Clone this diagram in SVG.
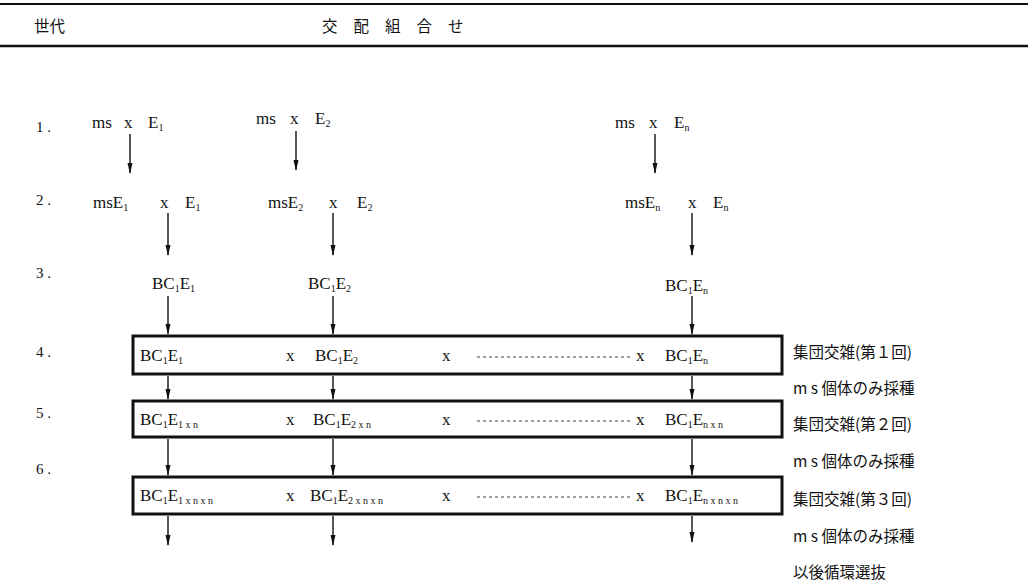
<svg xmlns="http://www.w3.org/2000/svg" width="1028" height="587" viewBox="0 0 1028 587">
<style>
.t{font-family:"Liberation Serif","Times New Roman",serif;font-size:17px;fill:#111}
.s{font-size:10px}
.j{font-family:"Noto Sans CJK JP","Noto Sans CJK SC",sans-serif;font-size:15.5px;fill:#111}
.n{font-family:"Liberation Serif","Times New Roman",serif;font-size:15px;fill:#111}
.box{fill:#fff;stroke:#111;stroke-width:3}
.ar{stroke:#111;stroke-width:1.4;fill:none;marker-end:url(#ah)}
.dash{stroke:#111;stroke-width:0.8;stroke-dasharray:3 3}
.rule{stroke:#111}
</style>
<defs>
<marker id="ah" markerWidth="11" markerHeight="6" refX="10" refY="3" orient="auto" markerUnits="userSpaceOnUse" viewBox="0 0 11 6">
<path d="M0,0.5 L11,3 L0,5.5 Z" fill="#111"/>
</marker>
</defs>
<rect width="1028" height="587" fill="#fff"/>
<g id="header">
<line class="rule" x1="0" y1="4" x2="1028" y2="4" stroke-width="2"/>
<line class="rule" x1="0" y1="46" x2="1028" y2="46" stroke-width="2.5"/>
<text class="j" x="34" y="32">世代</text>
<text class="j" x="322" y="32" letter-spacing="16">交配組合せ</text>
</g>
<g id="generation-labels">
<text class="n" x="36" y="132">1 .</text>
<text class="n" x="36" y="205">2 .</text>
<text class="n" x="36" y="278">3 .</text>
<text class="n" x="36" y="357">4 .</text>
<text class="n" x="36" y="418">5 .</text>
<text class="n" x="36" y="474">6 .</text>
</g>
<g id="row1">
<text class="t" x="92" y="128">ms<tspan x="124">x</tspan><tspan x="148">E</tspan><tspan class="s" dy="3">1</tspan></text>
<text class="t" x="256" y="124">ms<tspan x="290">x</tspan><tspan x="315">E</tspan><tspan class="s" dy="3">2</tspan></text>
<text class="t" x="615" y="128">ms<tspan x="649">x</tspan><tspan x="674">E</tspan><tspan class="s" dy="3">n</tspan></text>
</g>
<g id="row2">
<text class="t" x="93" y="208">msE<tspan class="s" dy="3">1</tspan><tspan x="160" dy="-3">x</tspan><tspan x="185">E</tspan><tspan class="s" dy="3">1</tspan></text>
<text class="t" x="268" y="208">msE<tspan class="s" dy="3">2</tspan><tspan x="329" dy="-3">x</tspan><tspan x="357">E</tspan><tspan class="s" dy="3">2</tspan></text>
<text class="t" x="625" y="208">msE<tspan class="s" dy="3">n</tspan><tspan x="688" dy="-3">x</tspan><tspan x="713">E</tspan><tspan class="s" dy="3">n</tspan></text>
</g>
<g id="row3">
<text class="t" x="152" y="289">BC<tspan class="s" dy="3">1</tspan><tspan dy="-3">E</tspan><tspan class="s" dy="3">1</tspan></text>
<text class="t" x="308" y="289">BC<tspan class="s" dy="3">1</tspan><tspan dy="-3">E</tspan><tspan class="s" dy="3">2</tspan></text>
<text class="t" x="665" y="291">BC<tspan class="s" dy="3">1</tspan><tspan dy="-3">E</tspan><tspan class="s" dy="3">n</tspan></text>
</g>
<g id="box4">
<rect class="box" x="133" y="336" width="649" height="38"/>
<text class="t" x="140" y="361">BC<tspan class="s" dy="3">1</tspan><tspan dy="-3">E</tspan><tspan class="s" dy="3">1</tspan></text>
<text class="t" x="286" y="361">x</text>
<text class="t" x="315" y="361">BC<tspan class="s" dy="3">1</tspan><tspan dy="-3">E</tspan><tspan class="s" dy="3">2</tspan></text>
<text class="t" x="442" y="361">x</text>
<line class="dash" x1="477" y1="357" x2="632" y2="357"/>
<text class="t" x="636" y="361">x</text>
<text class="t" x="665" y="361">BC<tspan class="s" dy="3">1</tspan><tspan dy="-3">E</tspan><tspan class="s" dy="3">n</tspan></text>
</g>
<g id="box5">
<rect class="box" x="133" y="401" width="649" height="36"/>
<text class="t" x="140" y="425">BC<tspan class="s" dy="3">1</tspan><tspan dy="-3">E</tspan><tspan class="s" dy="3">1 x n</tspan></text>
<text class="t" x="286" y="425">x</text>
<text class="t" x="313" y="425">BC<tspan class="s" dy="3">1</tspan><tspan dy="-3">E</tspan><tspan class="s" dy="3">2 x n</tspan></text>
<text class="t" x="442" y="425">x</text>
<line class="dash" x1="477" y1="421" x2="632" y2="421"/>
<text class="t" x="636" y="425">x</text>
<text class="t" x="665" y="425">BC<tspan class="s" dy="3">1</tspan><tspan dy="-3">E</tspan><tspan class="s" dy="3">n x n</tspan></text>
</g>
<g id="box6">
<rect class="box" x="133" y="477" width="649" height="37"/>
<text class="t" x="140" y="501">BC<tspan class="s" dy="3">1</tspan><tspan dy="-3">E</tspan><tspan class="s" dy="3">1 x n x n</tspan></text>
<text class="t" x="286" y="501">x</text>
<text class="t" x="310" y="501">BC<tspan class="s" dy="3">1</tspan><tspan dy="-3">E</tspan><tspan class="s" dy="3">2 x n x n</tspan></text>
<text class="t" x="442" y="501">x</text>
<line class="dash" x1="477" y1="497" x2="632" y2="497"/>
<text class="t" x="636" y="501">x</text>
<text class="t" x="665" y="501">BC<tspan class="s" dy="3">1</tspan><tspan dy="-3">E</tspan><tspan class="s" dy="3">n x n x n</tspan></text>
</g>
<g id="side-labels">
<text class="j" x="793" y="358">集団交雑(第１回)</text>
<text class="j" x="793" y="394">m s  個体のみ採種</text>
<text class="j" x="793" y="430">集団交雑(第２回)</text>
<text class="j" x="793" y="467">m s  個体のみ採種</text>
<text class="j" x="793" y="505">集団交雑(第３回)</text>
<text class="j" x="793" y="542">m s  個体のみ採種</text>
<text class="j" x="793" y="578">以後循環選抜</text>
</g>
<g id="connectors">
<line class="ar" x1="130" y1="134" x2="130" y2="173"/>
<line class="ar" x1="296" y1="131" x2="296" y2="170"/>
<line class="ar" x1="655" y1="134" x2="655" y2="173"/>
<line class="ar" x1="168" y1="213" x2="168" y2="255"/>
<line class="ar" x1="333" y1="213" x2="333" y2="255"/>
<line class="ar" x1="692" y1="213" x2="692" y2="255"/>
<line class="ar" x1="168" y1="296" x2="168" y2="334"/>
<line class="ar" x1="333" y1="296" x2="333" y2="334"/>
<line class="ar" x1="692" y1="296" x2="692" y2="334"/>
<line class="ar" x1="168" y1="376" x2="168" y2="399"/>
<line class="ar" x1="333" y1="376" x2="333" y2="399"/>
<line class="ar" x1="692" y1="376" x2="692" y2="399"/>
<line class="ar" x1="168" y1="439" x2="168" y2="475"/>
<line class="ar" x1="333" y1="439" x2="333" y2="475"/>
<line class="ar" x1="692" y1="439" x2="692" y2="475"/>
<line class="ar" x1="168" y1="516" x2="168" y2="545"/>
<line class="ar" x1="333" y1="516" x2="333" y2="545"/>
<line class="ar" x1="692" y1="516" x2="692" y2="542"/>
</g>
</svg>
